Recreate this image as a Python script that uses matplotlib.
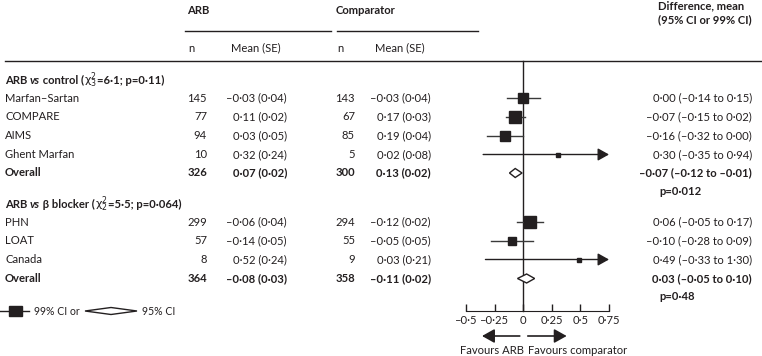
import matplotlib
matplotlib.use("Agg")
import matplotlib.pyplot as plt
from matplotlib.patches import Polygon, Rectangle

# ---------------- data ----------------
studies1 = ["Marfan–Sartan", "COMPARE", "AIMS", "Ghent Marfan"]
arb_n1 = [145, 77, 94, 10]
arb_mean1 = [-0.03, 0.11, 0.03, 0.32]
arb_se1 = [0.04, 0.02, 0.05, 0.24]
comp_n1 = [143, 67, 85, 5]
comp_mean1 = [-0.03, 0.17, 0.19, 0.02]
comp_se1 = [0.04, 0.03, 0.04, 0.08]
diff1 = [0.00, -0.07, -0.16, 0.30]
lo1 = [-0.14, -0.15, -0.32, -0.35]
hi1 = [0.15, 0.02, 0.00, 0.94]
weights1 = [0.8, 1.0, 0.8, 0.3]
overall1 = dict(arb_n=326, arb_mean=0.07, arb_se=0.02, comp_n=300, comp_mean=0.13,
                comp_se=0.02, diff=-0.07, lo=-0.12, hi=-0.01, p="p=0·012")

studies2 = ["PHN", "LOAT", "Canada"]
arb_n2 = [299, 57, 8]
arb_mean2 = [-0.06, -0.14, 0.52]
arb_se2 = [0.04, 0.05, 0.24]
comp_n2 = [294, 55, 9]
comp_mean2 = [-0.12, -0.05, 0.03]
comp_se2 = [0.02, 0.05, 0.21]
diff2 = [0.06, -0.10, 0.49]
lo2 = [-0.05, -0.28, -0.33]
hi2 = [0.17, 0.09, 1.30]
weights2 = [1.0, 0.75, 0.3]
overall2 = dict(arb_n=364, arb_mean=-0.08, arb_se=0.03, comp_n=358, comp_mean=-0.11,
                comp_se=0.02, diff=0.03, lo=-0.05, hi=0.10, p="p=0·48")

xticks = [-0.5, -0.25, 0, 0.25, 0.5, 0.75]

# ---------------- style ----------------
FAM = ["Lato", "DejaVu Sans"]
plt.rcParams["font.family"] = FAM
plt.rcParams["mathtext.fontset"] = "dejavusans"
TXT = "#231f20"
LN = "#3a3a3a"
FS = 8.1
ARROW = "-|>,head_length=0.75,head_width=0.42"

W, H = 762, 356
fig = plt.figure(figsize=(W / 100, H / 100), dpi=100)
tax = fig.add_axes([0, 0, 1, 1])
tax.set_xlim(0, W)
tax.set_ylim(H, 0)
tax.axis("off")

XMIN, XMAX = -0.5, 0.75
px_l, px_r = 466, 609
fax = fig.add_axes([px_l / W, 0, (px_r - px_l) / W, 1], facecolor="none")
fax.set_xlim(XMIN, XMAX)
fax.set_ylim(H, 0)


def f2(v):
    s = f"{abs(v):.2f}".replace(".", "·")
    return ("–" + s) if v < 0 else s


def ms(v, se):
    return f"{f2(v)} ({f2(se)})"


def ci(d, lo, hi):
    return f"{f2(d)} ({f2(lo)} to {f2(hi)})"


def t(x, y, s, ha="left", bold=False, **kw):
    return tax.text(x, y, s, ha=ha, va="center", fontsize=kw.pop("fontsize", FS),
                    fontweight="bold" if bold else "normal", color=TXT, family=FAM, **kw)


renderer = fig.canvas.get_renderer()


def seq(x, y, parts):
    for s, kw in parts:
        tt = tax.text(x, y, s, ha="left", va="center", fontsize=FS, color=TXT, family=FAM, **kw)
        bb = tt.get_window_extent(renderer)
        x = tax.transData.inverted().transform((bb.x1, 0))[0]


# ---------------- header ----------------
t(187, 10, "ARB", bold=True)
t(336, 10, "Comparator", bold=True)
t(658, 6, "Difference, mean", bold=True)
t(658, 20, "(95% CI or 99% CI)", bold=True)
tax.plot([185, 331], [31, 31], color=TXT, lw=1)
tax.plot([337, 478], [31, 31], color=TXT, lw=1)
t(188, 48, "n")
t(231, 48, "Mean (SE)")
t(337, 48, "n")
t(375, 48, "Mean (SE)")
tax.plot([5, W], [61, 61], color=TXT, lw=1)

X_N1, X_M1, X_N2, X_M2, X_R = 207, 287, 355, 431, 752

# ---------------- forest ----------------
fax.plot([0, 0], [61, 311], color=TXT, lw=1, zorder=1)


def study_row(y, name, an, am, ase, cn, cm, cse, d, lo, hi, w):
    t(5, y, name)
    t(X_N1, y, str(an), ha="right")
    t(X_M1, y, ms(am, ase), ha="right")
    t(X_N2, y, str(cn), ha="right")
    t(X_M2, y, ms(cm, cse), ha="right")
    t(X_R, y, ci(d, lo, hi), ha="right")
    lo_c = max(lo, XMIN)
    if hi > XMAX:
        fax.annotate("", xy=(XMAX, y), xytext=(lo_c, y),
                     arrowprops=dict(arrowstyle=ARROW, mutation_scale=9, lw=1,
                                     color=TXT, shrinkA=0, shrinkB=0), zorder=2)
    else:
        fax.plot([lo_c, hi], [y, y], color=LN, lw=1, zorder=2, clip_on=False)
    fax.plot([d], [y], marker="s", ms=8.2 * w, color=TXT, mec=TXT, lw=0, zorder=3,
             clip_on=False)


def overall_row(y, o):
    t(5, y, "Overall", bold=True)
    t(X_N1, y, str(o["arb_n"]), ha="right", bold=True)
    t(X_M1, y, ms(o["arb_mean"], o["arb_se"]), ha="right", bold=True)
    t(X_N2, y, str(o["comp_n"]), ha="right", bold=True)
    t(X_M2, y, ms(o["comp_mean"], o["comp_se"]), ha="right", bold=True)
    t(X_R, y, ci(o["diff"], o["lo"], o["hi"]), ha="right", bold=True)
    t(659, y + 18.5, o["p"], bold=True)
    h = 4.5
    fax.add_patch(Polygon([(o["lo"], y), (o["diff"], y - h), (o["hi"], y), (o["diff"], y + h)],
                          closed=True, facecolor="white", edgecolor=TXT, lw=1, zorder=3,
                          clip_on=False))


seq(5, 80, [("ARB ", dict(fontweight="bold")),
            ("vs", dict(fontweight="bold", fontstyle="italic")),
            (" control (", dict(fontweight="bold")),
            (r"$\mathrm{\chi}^2_3$", dict()),
            ("=6·1; p=0·11)", dict(fontweight="bold"))])
rows1 = [98, 117, 135.5, 154.5]
for i, y in enumerate(rows1):
    study_row(y, studies1[i], arb_n1[i], arb_mean1[i], arb_se1[i], comp_n1[i],
              comp_mean1[i], comp_se1[i], diff1[i], lo1[i], hi1[i], weights1[i])
overall_row(173, overall1)

seq(5, 204, [("ARB ", dict(fontweight="bold")),
             ("vs", dict(fontweight="bold", fontstyle="italic")),
             (" β blocker (", dict(fontweight="bold")),
             (r"$\mathrm{\chi}^2_2$", dict()),
             ("=5·5; p=0·064)", dict(fontweight="bold"))])
rows2 = [222, 241, 259.5]
for i, y in enumerate(rows2):
    study_row(y, studies2[i], arb_n2[i], arb_mean2[i], arb_se2[i], comp_n2[i],
              comp_mean2[i], comp_se2[i], diff2[i], lo2[i], hi2[i], weights2[i])
overall_row(278.5, overall2)

# ---------------- axis ----------------
for s in ["top", "right", "left"]:
    fax.spines[s].set_visible(False)
fax.spines["bottom"].set_position(("data", 311))
fax.spines["bottom"].set_bounds(XMIN, XMAX)
fax.spines["bottom"].set_color(TXT)
fax.set_yticks([])
fax.set_xticks(xticks)
fax.set_xticklabels([("0" if v == 0 else f"{abs(v):g}".replace(".", "·")) if v >= 0
                     else "–" + f"{abs(v):g}".replace(".", "·") for v in xticks],
                    fontsize=FS, color=TXT, family=FAM)
fax.tick_params(axis="x", direction="in", length=5, width=1, color=TXT, pad=3)

for x0, x1 in [(-0.03, -0.36), (0.04, 0.38)]:
    fax.annotate("", xy=(x1, 336), xytext=(x0, 336),
                 arrowprops=dict(arrowstyle=ARROW, mutation_scale=10, lw=1.2, color=TXT,
                                 shrinkA=0, shrinkB=0), annotation_clip=False)
t(524, 350, "Favours ARB", ha="right")
t(528, 350, "Favours comparator", ha="left")

# ---------------- legend ----------------
tax.plot([0, 29], [311, 311], color=TXT, lw=1)
tax.add_patch(Rectangle((9, 306), 13, 10, facecolor=TXT, edgecolor=TXT, zorder=3))
t(34, 311.5, "99% CI or", fontsize=7.6)
tax.add_patch(Polygon([(85, 311), (111, 307.5), (137, 311), (111, 314.5)], closed=True,
                      facecolor="white", edgecolor=TXT, lw=1))
t(142, 311.5, "95% CI", fontsize=7.6)

fig.savefig("out.png", dpi=100)
